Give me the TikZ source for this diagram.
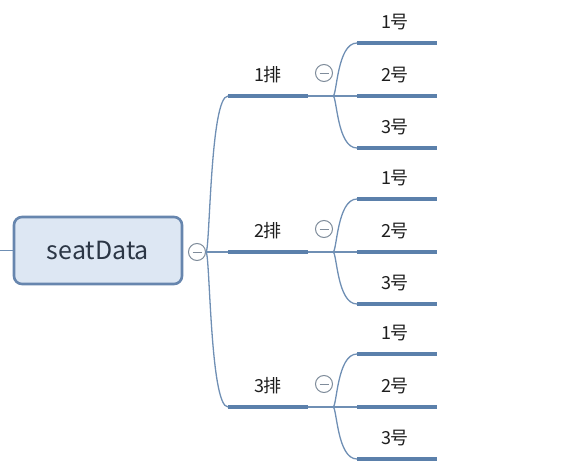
\documentclass[tikz,border=0pt]{standalone}
\usepackage{fontspec}
\setmainfont{Noto Sans CJK SC}
\definecolor{barcol}{HTML}{5B80AB}
\definecolor{conncol}{HTML}{6F8FB4}
\definecolor{boxfill}{HTML}{DDE7F3}
\definecolor{boxdraw}{HTML}{6786AE}
\definecolor{circcol}{HTML}{7F8C9B}
\definecolor{txtcol}{HTML}{1E1E1E}
\definecolor{roottxt}{HTML}{2B3645}
\tikzset{
  rootbox/.style={draw=boxdraw, fill=boxfill, line width=2.6pt, rounded corners=8pt,
    minimum width=168pt, minimum height=67pt, inner sep=0pt,
    font=\fontsize{25}{28}\selectfont, text=roottxt},
  collapse/.style={circle, draw=circcol, line width=1pt, fill=white, minimum size=17pt, inner sep=0pt,
    path picture={\draw[circcol, line width=1pt] ([xshift=-4.5pt]path picture bounding box.center) -- ([xshift=4.5pt]path picture bounding box.center);}},
  bar/.style={draw=barcol, line width=4.5pt},
  conn/.style={draw=conncol, line width=1.3pt},
  lbl/.style={font=\fontsize{18}{21}\selectfont, text=txtcol, inner sep=0pt},
}
\begin{document}
\begin{tikzpicture}[x=1pt,y=-1pt]
\useasboundingbox (0,0) rectangle (574,471);
\node[rootbox] (root) at (98,250.5) {seatData};
\coordinate (lend) at (0,250.5);
\draw[conn] (lend) -- (root.west);
\node[collapse] (c0) at (197,252) {};
\foreach \i/\y in {1/96,2/252,3/407}{
  \coordinate (r\i a) at (228,\y);
  \coordinate (r\i b) at (308,\y);
  \node[lbl] (r\i l) at (268,\y-21) {\i 排};
  \node[collapse] (c\i) at (324,\y-23) {};
  \coordinate (j\i) at (333,\y);
  \foreach \k/\d in {1/-53,2/0,3/52}{
    \coordinate (s\i\k a) at (357,\y+\d);
    \coordinate (s\i\k b) at (437,\y+\d);
    \node[lbl] (s\i\k l) at (395,\y+\d-21) {\k 号};
  }
}
% trunk connectors
\draw[conn] (c0.east) .. controls (210,252) and (210,96) .. (r1a);
\draw[conn] (c0.east) -- (r2a);
\draw[conn] (c0.east) .. controls (210,252) and (210,407) .. (r3a);
\foreach \i/\y in {1/96,2/252,3/407}{
  \draw[bar] (r\i a) -- (r\i b);
  \draw[conn] (r\i b) -- (s\i2a);
  \draw[conn] (j\i) .. controls (337,\y) and (337,\y-53) .. (s\i1a);
  \draw[conn] (j\i) .. controls (337,\y) and (337,\y+52) .. (s\i3a);
  \foreach \k in {1,2,3}{
    \draw[bar] (s\i\k a) -- (s\i\k b);
  }
}
\end{tikzpicture}
\end{document}
